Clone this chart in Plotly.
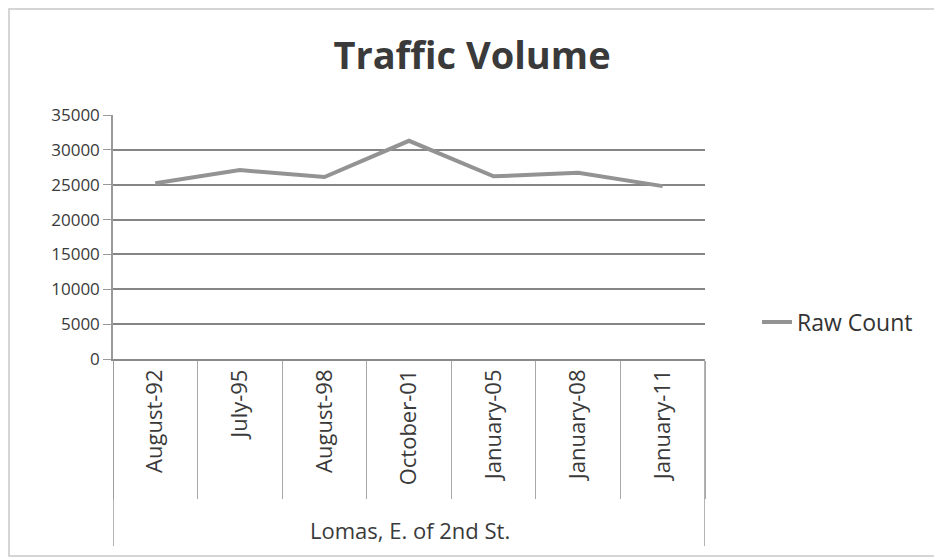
import plotly.graph_objects as go

group = "Lomas, E. of 2nd St."
categories = ["August-92", "July-95", "August-98", "October-01", "January-05", "January-08", "January-11"]
raw_count = [25200, 27100, 26100, 31300, 26200, 26700, 24800]
y_ticks = [0, 5000, 10000, 15000, 20000, 25000, 30000, 35000]

fig = go.Figure()
fig.add_trace(go.Scatter(
    x=categories,
    y=raw_count,
    mode="lines",
    name="Raw Count",
    line=dict(color="#939393", width=4),
))

# the page body adds an 8px offset; positions below are in reference-picture pixels
OFF = 8
W, H = 934, 550
L, T = 113 - OFF, 115 - OFF
pw, ph = 705 - 113, 359 - 115
R = W - L - pw
B = H - T - ph

def px_x(x):
    return (x - OFF - L) / pw

def px_y(y):
    return (H - B - (y - OFF)) / ph

fig.update_layout(
    width=W, height=H,
    margin=dict(l=L, r=R, t=T, b=B),
    paper_bgcolor="white",
    plot_bgcolor="white",
    font=dict(family="Open Sans, sans-serif", color="#3a3a3a"),
    title=dict(text="<b>Traffic Volume</b>", x=(472 - OFF) / W, xanchor="center",
               y=1 - (56 - OFF) / H, yanchor="middle",
               font=dict(size=38, color="#3a3a3a")),
    showlegend=True,
    legend=dict(x=px_x(757), y=px_y(322), xanchor="left", yanchor="middle",
                font=dict(size=23, color="#333333"), bgcolor="rgba(0,0,0,0)"),
    xaxis=dict(
        type="category",
        categoryorder="array", categoryarray=categories,
        range=[-0.5, len(categories) - 0.5],
        automargin=False,
        showgrid=False,
        showline=True, linecolor="#8a8a8a", linewidth=1.5,
        tickangle=-90,
        tickfont=dict(size=22, color="#3a3a3a"),
        ticks="outside", tickson="boundaries", ticklen=138, tickcolor="#a8a8a8", tickwidth=1,
    ),
    yaxis=dict(
        range=[0, 35000],
        automargin=False,
        tickvals=y_ticks,
        ticktext=[str(v) for v in y_ticks],
        showgrid=True, gridcolor="#858585", gridwidth=1.5,
        showline=True, linecolor="#9a9a9a", linewidth=1.5,
        zeroline=False,
        ticks="outside", ticklen=8, tickcolor="#9a9a9a",
        tickfont=dict(size=17, color="#3a3a3a"),
    ),
)

# outer group dividers and group label
for xb in (-0.5, len(categories) - 0.5):
    fig.add_shape(type="line", xref="x", yref="paper", x0=xb, x1=xb, y0=0, y1=px_y(546),
                  line=dict(color="#9a9a9a", width=1.5))
fig.add_annotation(text=group, xref="paper", yref="paper", x=px_x(410), y=px_y(530),
                   showarrow=False, xanchor="center", yanchor="middle",
                   font=dict(size=22, color="#3a3a3a"))

fig.add_shape(type="rect", xref="paper", yref="paper",
              x0=px_x(OFF + 1), x1=px_x(OFF + W - 2), y0=px_y(OFF + H - 2), y1=px_y(OFF + 1),
              line=dict(color="#c8c8c8", width=1.5), fillcolor="rgba(0,0,0,0)", layer="below")

fig.write_html("out.html")
